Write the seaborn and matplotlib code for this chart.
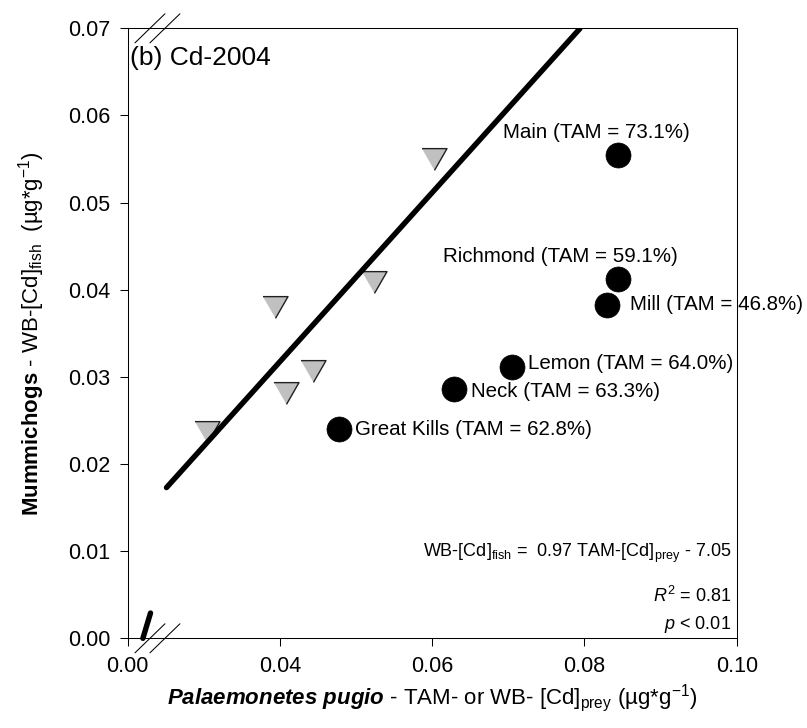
import numpy as np
import pandas as pd
import seaborn as sns
import matplotlib.pyplot as plt

# ---- data (ug/g) ----
site_names = ["Main", "Richmond", "Mill", "Lemon", "Neck", "Great Kills"]
site_tam = [73.1, 59.1, 46.8, 64.0, 63.3, 62.8]
tam_prey = [0.0844, 0.0844, 0.0829, 0.0705, 0.0629, 0.0477]
tam_fish = [0.0555, 0.0412, 0.0383, 0.0311, 0.0286, 0.0240]

wb_prey = [0.0602, 0.0523, 0.0393, 0.0443, 0.0408, 0.0304]
wb_fish = [0.0550, 0.0409, 0.0380, 0.0307, 0.0281, 0.0237]

fit_slope = 0.97
fit_icpt = -7.05          # ng/g
fit_r2 = 0.81
fit_x = [0.0251, 0.0794]
stub_x = [0.0020, 0.0030]  # piece of the line left of the axis break
stub_y = [0.0, 0.0029]

x_ticks = [0.00, 0.04, 0.06, 0.08, 0.10]
y_ticks = [0.00, 0.01, 0.02, 0.03, 0.04, 0.05, 0.06, 0.07]

# x axis is broken between 0.00 and 0.04 -> everything past 0.02 slides left
BREAK = 0.02


def brk(x):
    x = np.asarray(x, dtype=float)
    return np.where(x >= BREAK, x - BREAK, x)


sns.set_theme(style="ticks")
plt.rcParams["font.family"] = ["Liberation Sans", "DejaVu Sans"]
plt.rcParams["mathtext.fontset"] = "custom"
plt.rcParams["mathtext.rm"] = "Liberation Sans"
plt.rcParams["mathtext.it"] = "Liberation Sans:italic"
plt.rcParams["mathtext.bf"] = "Liberation Sans:bold"
plt.rcParams["mathtext.bfit"] = "Liberation Sans:bold:italic"
for k in ("text.color", "axes.labelcolor", "xtick.color", "ytick.color", "axes.edgecolor"):
    plt.rcParams[k] = "black"

fig = plt.figure(figsize=(8.07, 7.28), dpi=100)
ax = fig.add_axes([0.1582, 0.1232, 0.7547, 0.8379])

tam_df = pd.DataFrame({"x": brk(tam_prey), "y": tam_fish, "site": site_names})
wb_df = pd.DataFrame({"x": brk(wb_prey), "y": wb_fish})

line_x = np.array(fit_x)
line_df = pd.DataFrame({"x": brk(line_x), "y": fit_slope * line_x + fit_icpt / 1000})

tri = [(-1, 0.87), (1, 0.87), (0, -0.87)]
sns.scatterplot(data=wb_df, x="x", y="y", marker=tri, s=324, color="#c0c0c0",
                edgecolor="#202020", linewidth=1, zorder=3, ax=ax, legend=False)
sns.scatterplot(data=tam_df, x="x", y="y", marker="o", s=324, color="black",
                edgecolor="black", linewidth=0.5, zorder=3, ax=ax, legend=False)
sns.lineplot(data=line_df, x="x", y="y", color="black", lw=3.9,
             solid_capstyle="round", zorder=4, ax=ax)
ax.plot(stub_x, stub_y, color="black", lw=3.9, solid_capstyle="round",
        zorder=4, clip_on=False)

# site labels (pixel offsets, alignment)
label_style = {
    "Main": ((-22, 22), "center"),
    "Richmond": ((-58, 23), "center"),
    "Mill": ((23, 0), "left"),
    "Lemon": ((16, 4), "left"),
    "Neck": ((17, -2), "left"),
    "Great Kills": ((16, 0), "left"),
}
for _, row in tam_df.iterrows():
    off, ha = label_style[row["site"]]
    tam = site_tam[site_names.index(row["site"])]
    ax.annotate(f"{row['site']} (TAM = {tam:.1f}%)", (row["x"], row["y"]),
                xytext=off, textcoords="offset pixels", ha=ha, va="center",
                fontsize=14.8, annotation_clip=False)

ax.set_xlim(0, 0.08)
ax.set_ylim(0, 0.07)
ax.set_xticks(brk(x_ticks))
ax.set_xticklabels([f"{v:.2f}" for v in x_ticks])
ax.set_yticks(y_ticks)
ax.set_yticklabels([f"{v:.2f}" for v in y_ticks])
ax.tick_params(axis="both", direction="out", length=5.5, width=0.75,
               labelsize=15.5, color="black", labelcolor="black")
ax.tick_params(axis="x", pad=7)
ax.tick_params(axis="y", pad=7)
for sp in ax.spines.values():
    sp.set_visible(True)
    sp.set_linewidth(0.75)
    sp.set_color("black")

ax.set_xlabel(r"$\mathbfit{Palaemonetes\ pugio}$ - TAM- or WB- [Cd]$_{\mathrm{prey}}$ (µg*g$^{-1}$)",
              fontsize=16, labelpad=4)
ax.set_ylabel(r"$\mathbf{Mummichogs}$ - WB-[Cd]$_{\mathrm{fish}}$  (µg*g$^{-1}$)",
              fontsize=16, labelpad=15)

ax.text(0.004, 0.951, "(b) Cd-2004", transform=ax.transAxes, fontsize=19,
        ha="left", va="center")

sign = "-" if fit_icpt < 0 else "+"
ax.text(0.9906, 0.1398,
        rf"WB-[Cd]$_{{\mathrm{{fish}}}}$ =  {fit_slope:.2f} TAM-[Cd]$_{{\mathrm{{prey}}}}$ {sign} {abs(fit_icpt):.2f}",
        transform=ax.transAxes, fontsize=13, ha="right", va="center")
ax.text(0.9906, 0.0693, rf"$R^2$ = {fit_r2:.2f}", transform=ax.transAxes,
        fontsize=13, ha="right", va="center")
ax.text(0.9906, 0.0234, r"$p$ < 0.01", transform=ax.transAxes,
        fontsize=13, ha="right", va="center")

# break marks on top and bottom spines
for yc in (0.0, 1.0):
    for xc in (0.0366, 0.0612):
        ax.plot([xc - 0.0246, xc + 0.0246], [yc - 0.0238, yc + 0.0238],
                transform=ax.transAxes, color="black", lw=0.75, clip_on=False)

fig.savefig("out.png", dpi=100)
